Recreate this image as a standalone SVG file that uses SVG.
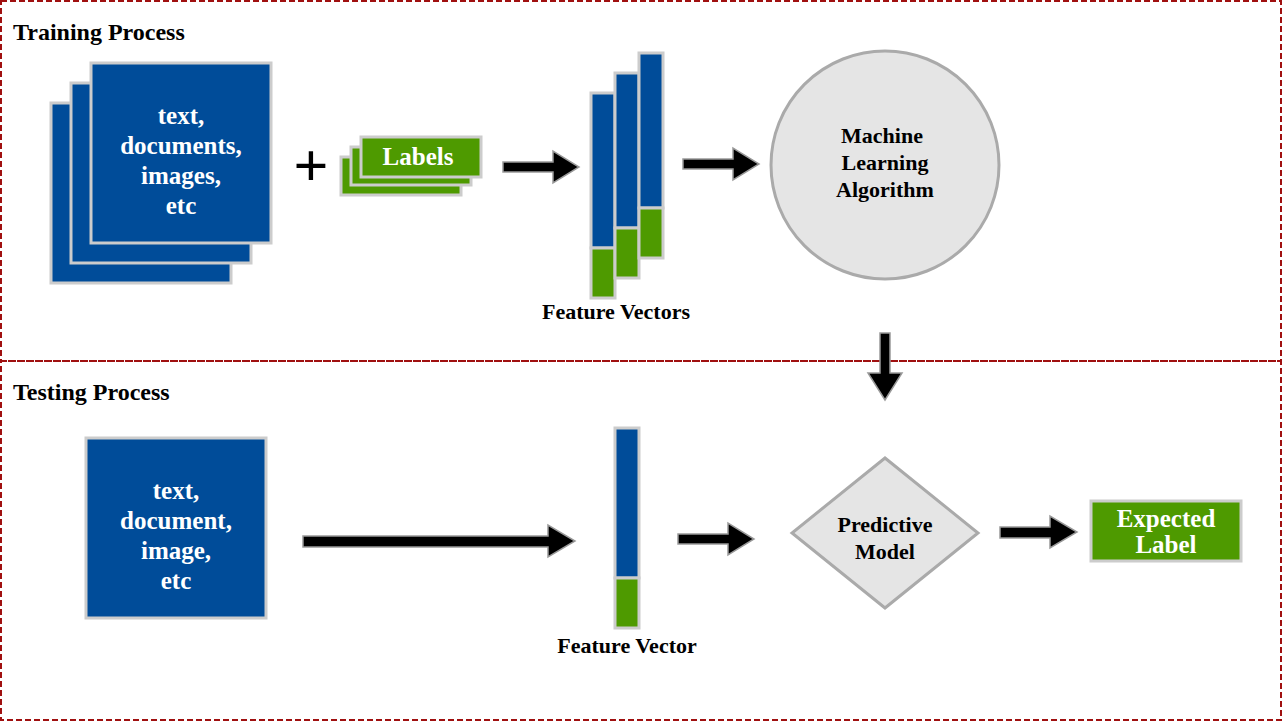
<svg xmlns="http://www.w3.org/2000/svg" width="1282" height="722" viewBox="0 0 1282 722">
<style>
.t{font-family:"Liberation Serif",serif;font-weight:bold}
.w{fill:#fff;font-size:25px;text-anchor:middle}
.k{fill:#000;font-size:22px;text-anchor:middle}
.h{fill:#000;font-size:24px}
.b{fill:#004c99;stroke:#ccc;stroke-width:3}
.g{fill:#4e9a00;stroke:#ccc;stroke-width:3}
.a{fill:#000;stroke:#999;stroke-width:1.5}
.z{fill:none;stroke:#a01010;stroke-width:2;stroke-dasharray:6,3}
</style>
<rect width="1282" height="722" fill="#fff"/>
<rect class="z" x="1" y="1" width="1280" height="360"/>
<rect class="z" x="1" y="361" width="1280" height="359"/>
<text class="t h" x="13" y="40">Training  Process</text>
<text class="t h" x="13" y="400">Testing  Process</text>
<g id="docs">
<rect class="b" x="51" y="103" width="180" height="180"/>
<rect class="b" x="71" y="83" width="180" height="180"/>
<rect class="b" x="91" y="63" width="180" height="180"/>
<text class="t w" x="181" y="124">text,</text>
<text class="t w" x="181" y="154">documents,</text>
<text class="t w" x="181" y="184">images,</text>
<text class="t w" x="181" y="214">etc</text>
</g>
<text class="t" x="311" y="186" font-size="62" text-anchor="middle">+</text>
<g id="labels">
<rect class="g" x="341" y="157" width="120" height="38"/>
<rect class="g" x="351" y="147" width="120" height="38"/>
<rect class="g" x="361" y="137" width="120" height="40"/>
<text class="t w" x="418" y="165" font-size="22">Labels</text>
</g>
<g id="fv">
<rect class="b" x="591" y="93" width="24" height="155"/><rect class="g" x="591" y="248" width="24" height="50"/>
<rect class="b" x="615" y="73" width="24" height="155"/><rect class="g" x="615" y="228" width="24" height="50"/>
<rect class="b" x="639" y="53" width="24" height="155"/><rect class="g" x="639" y="208" width="24" height="50"/>
<text class="t k" x="616" y="319">Feature Vectors</text>
</g>
<g id="mla">
<circle cx="885" cy="165" r="114" fill="#e5e5e5" stroke="#aaa" stroke-width="3"/>
<text class="t k" x="882" y="143">Machine</text>
<text class="t k" x="885" y="170">Learning</text>
<text class="t k" x="885" y="197">Algorithm</text>
</g>
<g id="doc2">
<rect class="b" x="86" y="438" width="180" height="180"/>
<text class="t w" x="176" y="499">text,</text>
<text class="t w" x="176" y="529">document,</text>
<text class="t w" x="176" y="559">image,</text>
<text class="t w" x="176" y="589">etc</text>
</g>
<g id="fv2">
<rect class="b" x="615" y="428" width="24" height="150"/><rect class="g" x="615" y="578" width="24" height="50"/>
<text class="t k" x="627" y="653">Feature Vector</text>
</g>
<g id="model">
<polygon points="885,458 978,533 885,608 792,533" fill="#e5e5e5" stroke="#aaa" stroke-width="3"/>
<text class="t k" x="885" y="532">Predictive</text>
<text class="t k" x="885" y="559">Model</text>
</g>
<g id="expected">
<rect class="g" x="1091" y="501" width="150" height="60"/>
<text class="t w" x="1166" y="527" font-size="22">Expected</text>
<text class="t w" x="1166" y="553" font-size="22">Label</text>
</g>
<g id="connectors">
<polygon class="a" points="503,162 553,162 553,151 579,167 553,183 553,172 503,172"/>
<polygon class="a" points="683,159 733,159 733,148 759,164 733,180 733,169 683,169"/>
<polygon class="a" points="880,333 890,333 890,373 902,373 885,400 868,373 880,373"/>
<polygon class="a" points="303,536 548,536 548,525 575,541 548,557 548,547 303,547"/>
<polygon class="a" points="678,534 728,534 728,523 754,539 728,555 728,544 678,544"/>
<polygon class="a" points="1000,527 1050,527 1050,516 1077,532 1050,548 1050,538 1000,538"/>
</g>
</svg>
